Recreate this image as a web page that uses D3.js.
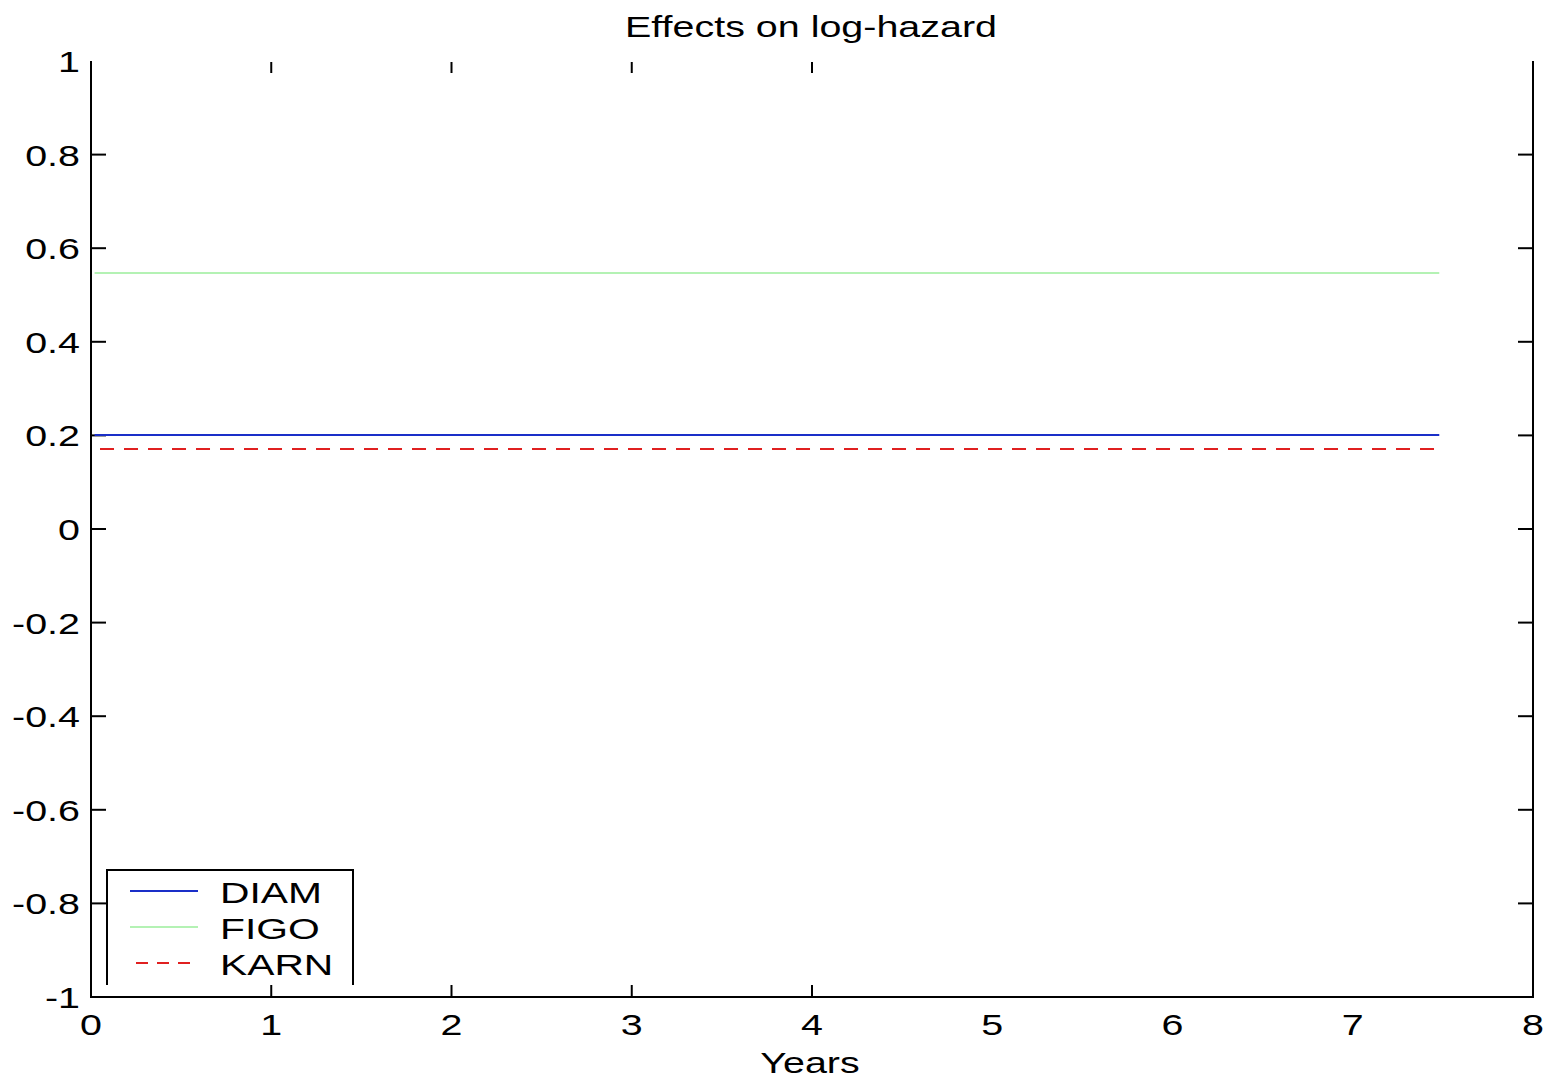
<!DOCTYPE html>
<html>
<head>
<meta charset="utf-8">
<script src="https://cdn.jsdelivr.net/npm/d3@7"></script>
<style>
  body { margin: 0; background: #fff; }
  svg { display: block; font-family: "Liberation Sans", Arial, sans-serif; }
</style>
</head>
<body>
<div id="paper"></div>
<script>
// series: constant effects over follow-up time
const seriesNames = ["DIAM", "FIGO", "KARN"];
const seriesColors = ["#1a2fc8", "#b4f2b4", "#e02020"];
const seriesDash = [null, null, "14,10"];
const xStart = [0.02, 0.02, 0.05];
const xEnd = [7.48, 7.48, 7.48];
const effects = [0.201, 0.547, 0.171];

const xTicks = [0, 1, 2, 3, 4, 5, 6, 7, 8];
const yTicks = [-1, -0.8, -0.6, -0.4, -0.2, 0, 0.2, 0.4, 0.6, 0.8, 1];
const minorTicksX = [1, 2, 3, 4]; // ticks visible on top/bottom edge

const width = 1550, height = 1081;
const margin = {left: 91, right: 17, top: 61, bottom: 84};
const stretch = 1.36; // the original glyphs are wide

const svg = d3.select("#paper").append("svg")
  .attr("width", width)
  .attr("height", height);

const x = d3.scaleLinear().domain([0, 8]).range([margin.left, width - margin.right]);
const y = d3.scaleLinear().domain([-1, 1]).range([height - margin.bottom, margin.top]);

// text helper with horizontal stretch
function label(parent, tx, ty, str, anchor, size) {
  parent.append("g")
    .attr("transform", `translate(${tx},${ty}) scale(${stretch},1)`)
    .append("text")
    .attr("text-anchor", anchor)
    .attr("font-size", size)
    .text(str);
}

// title
label(svg, 811, 37, "Effects on log-hazard", "middle", 29);

// axes frame: left, bottom, right (no top line)
svg.append("path")
  .attr("fill", "none").attr("stroke", "#000").attr("stroke-width", 2)
  .attr("d", `M${x(0)},${y(1)}V${y(-1)}H${x(8)}V${y(1)}`);

// y ticks left & right, inward
const yt = svg.append("g").attr("stroke", "#000").attr("stroke-width", 2);
yt.selectAll("line.l").data(yTicks.slice(1, -1)).join("line")
  .attr("class", "l")
  .attr("x1", x(0)).attr("x2", x(0) + 15)
  .attr("y1", d => y(d)).attr("y2", d => y(d));
yt.selectAll("line.r").data(yTicks.slice(1, -1)).join("line")
  .attr("class", "r")
  .attr("x1", x(8)).attr("x2", x(8) - 15)
  .attr("y1", d => y(d)).attr("y2", d => y(d));

// x ticks top & bottom, inward
const xt = svg.append("g").attr("stroke", "#000").attr("stroke-width", 2);
xt.selectAll("line.b").data(minorTicksX).join("line")
  .attr("class", "b")
  .attr("x1", d => x(d)).attr("x2", d => x(d))
  .attr("y1", y(-1)).attr("y2", y(-1) - 12);
xt.selectAll("line.t").data(minorTicksX).join("line")
  .attr("class", "t")
  .attr("x1", d => x(d)).attr("x2", d => x(d))
  .attr("y1", y(1) + 1).attr("y2", y(1) + 12);

// tick labels
const yl = svg.append("g");
yTicks.forEach(d => label(yl, x(0) - 11, y(d) + 11, String(d), "end", 29));
const xl = svg.append("g");
xTicks.forEach(d => label(xl, x(d), y(-1) + 38, String(d), "middle", 29));

label(svg, 810, 1073, "Years", "middle", 29);

// series lines
const line = d3.line().x(d => x(d[0])).y(d => y(d[1]));
svg.append("g").selectAll("path").data(seriesNames).join("path")
  .attr("fill", "none")
  .attr("stroke", (d, i) => seriesColors[i])
  .attr("stroke-width", 2)
  .attr("stroke-dasharray", (d, i) => seriesDash[i])
  .attr("d", (d, i) => line([[xStart[i], effects[i]], [xEnd[i], effects[i]]]));

// legend (box without bottom edge)
const lg = svg.append("g");
lg.append("rect").attr("x", 108).attr("y", 871).attr("width", 244).attr("height", 114).attr("fill", "#fff");
lg.append("path")
  .attr("fill", "none").attr("stroke", "#000").attr("stroke-width", 2)
  .attr("d", "M107,985V870H353V985");
seriesNames.forEach((name, i) => {
  const yy = 891 + i * 36;
  lg.append("line")
    .attr("x1", i === 2 ? 136 : 130).attr("x2", 198)
    .attr("y1", yy).attr("y2", yy)
    .attr("stroke", seriesColors[i])
    .attr("stroke-width", 2)
    .attr("stroke-dasharray", seriesDash[i] ? "12,9" : null);
  label(lg, 220, yy + 12, name, "start", 30);
});
</script>
</body>
</html>
